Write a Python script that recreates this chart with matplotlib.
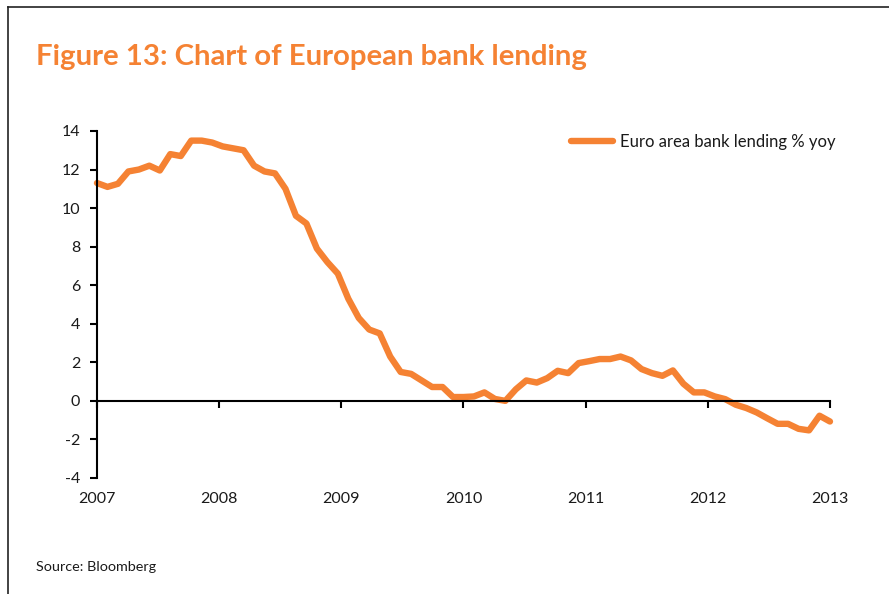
import numpy as np
import matplotlib
matplotlib.use('Agg')
import matplotlib.pyplot as plt
from matplotlib.lines import Line2D

plt.rcParams['font.family'] = ['Lato', 'DejaVu Sans']
plt.rcParams['axes.unicode_minus'] = False

# euro area bank lending, % yoy, monthly readings 2007 - end 2012
lending = [11.3, 11.1, 11.26, 11.9, 12.0, 12.2, 11.95, 12.8, 12.7, 13.5,
           13.5, 13.4, 13.2, 13.1, 13.0, 12.2, 11.9, 11.8, 11.0, 9.6,
           9.2, 7.9, 7.2, 6.6, 5.3, 4.3, 3.7, 3.5, 2.3, 1.5,
           1.4, 1.06, 0.72, 0.72, 0.2, 0.2, 0.23, 0.44, 0.1, 0.0,
           0.6, 1.06, 0.95, 1.18, 1.56, 1.44, 1.96, 2.06, 2.17, 2.17,
           2.3, 2.1, 1.65, 1.44, 1.3, 1.58, 0.89, 0.44, 0.44, 0.23,
           0.09, -0.2, -0.37, -0.6, -0.9, -1.19, -1.19, -1.45, -1.53, -0.77,
           -1.07]
years = [2007, 2008, 2009, 2010, 2011, 2012, 2013]
yticks = [-4, -2, 0, 2, 4, 6, 8, 10, 12, 14]
series_name = 'Euro area bank lending % yoy'

orange = '#F58233'
ink = '#1a1a1a'

t = np.linspace(years[0], years[-1], len(lending))

fig = plt.figure(figsize=(8.89, 5.94), dpi=100)
ax = fig.add_axes([0.1091, 0.1953, 0.8245, 0.5842])

ax.plot(t, lending, color=orange, lw=4.6, solid_capstyle='round',
        solid_joinstyle='round', label=series_name, clip_on=False)

ax.set_xlim(years[0], years[-1])
ax.set_ylim(yticks[0], yticks[-1])
ax.set_yticks(yticks)
ax.set_xticks(years)

for s in ['top', 'right']:
    ax.spines[s].set_visible(False)
ax.spines['bottom'].set_position(('data', 0))
ax.spines['bottom'].set_linewidth(1.5)
ax.spines['left'].set_linewidth(1.5)
ax.spines['bottom'].set_color('black')
ax.spines['left'].set_color('black')

ax.tick_params(axis='x', direction='out', length=5, width=1.5,
               labelbottom=False)
ax.tick_params(axis='y', direction='out', length=5, width=1.5,
               labelsize=11.5, pad=7, labelcolor=ink)

# year labels sit below the plot, not on the zero line
sec = ax.secondary_xaxis('bottom')
sec.set_xticks(years, [str(y) for y in years])
sec.spines['bottom'].set_visible(False)
sec.tick_params(length=0, pad=10, labelsize=11.5, labelcolor=ink)

ax.legend(loc='upper left', bbox_to_anchor=(563 / 889, 1 - 126 / 594),
          bbox_transform=fig.transFigure, frameon=False, borderpad=0,
          handlelength=2.5, handletextpad=0.45, fontsize=12,
          labelcolor=ink)

fig.text(0.0405, 1 - 65 / 594, 'Figure 13: Chart of European bank lending',
         fontsize=21.2, fontweight='bold', color=orange, va='baseline')
fig.text(0.0405, 1 - 571 / 594, 'Source: Bloomberg', fontsize=10.4,
         color=ink, va='baseline')

# page frame along the top and left edges
fig.add_artist(Line2D([8 / 889, 1.0], [1 - 7 / 594, 1 - 7 / 594],
                      transform=fig.transFigure, color='#222222', lw=1.2))
fig.add_artist(Line2D([8 / 889, 8 / 889], [0.0, 1 - 7 / 594],
                      transform=fig.transFigure, color='#222222', lw=1.2))

fig.savefig('out.png', dpi=100)
